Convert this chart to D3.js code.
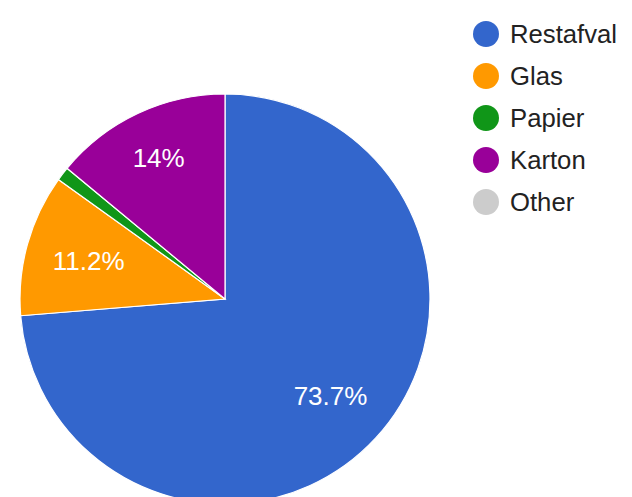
<!DOCTYPE html>
<html><head><meta charset="utf-8">
<script src="https://cdn.jsdelivr.net/npm/d3@7"></script>
<style>html,body{margin:0;padding:0;background:#fff;overflow:hidden}</style>
</head><body>
<svg id="chart" width="632" height="497"></svg>
<script>
const categories = ["Restafval", "Glas", "Papier", "Karton", "Other"];
const values = [73.7, 11.2, 1.1, 14.0, 0];
const labels = ["73.7%", "11.2%", "", "14%", ""];
const colors = ["#3366cc", "#ff9900", "#109618", "#990099", "#cccccc"];

const svg = d3.select("#chart");
const cx = 225, cy = 299, r = 205;
const font = "'Liberation Sans', Arial, sans-serif";

const pie = d3.pie().sort(null).value(d => d.v);
const data = categories.map((c, i) => ({c, v: values[i], label: labels[i], color: colors[i]}));
const arcs = pie(data);
const arc = d3.arc().innerRadius(0).outerRadius(r);
const labelFactor = {Restafval: 0.70, Glas: 0.69, Karton: 0.76};

const g = svg.append("g").attr("transform", `translate(${cx},${cy})`);
g.selectAll("path").data(arcs.filter(a => a.data.v > 0)).join("path")
  .attr("d", arc)
  .attr("fill", d => d.data.color)
  .attr("stroke", "#fff")
  .attr("stroke-width", 1.2);

g.selectAll("text").data(arcs.filter(a => a.data.label)).join("text")
  .each(function(d) {
    const f = labelFactor[d.data.c] || 0.7;
    const la = d3.arc().innerRadius(r * f).outerRadius(r * f);
    const [x, y] = la.centroid(d);
    d3.select(this).attr("x", x).attr("y", y);
  })
  .attr("text-anchor", "middle")
  .attr("dominant-baseline", "central")
  .attr("fill", "#fff")
  .attr("font-family", font)
  .attr("font-size", 26)
  .text(d => d.data.label);

const legend = svg.append("g");
const ly = d3.scalePoint().domain(categories).range([34, 202]);
const items = legend.selectAll("g").data(data).join("g")
  .attr("transform", d => `translate(0,${ly(d.c)})`);
items.append("circle").attr("cx", 486).attr("cy", 0).attr("r", 13).attr("fill", d => d.color);
items.append("text").attr("x", 510).attr("y", 0)
  .attr("dominant-baseline", "central")
  .attr("fill", "#222")
  .attr("font-family", font)
  .attr("font-size", 25.7)
  .text(d => d.c);
</script>
</body></html>
